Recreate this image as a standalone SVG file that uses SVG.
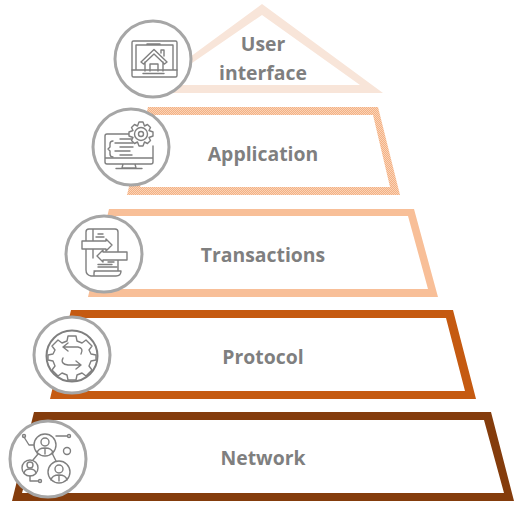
<svg xmlns="http://www.w3.org/2000/svg" width="526" height="514" viewBox="0 0 526 514">
<style>
.lbl{font-family:"Open Sans","Noto Sans","Liberation Sans",sans-serif;font-weight:700;font-size:19.400px;fill:#7f7f7f;text-anchor:middle}
.ring{fill:#fff;stroke:#a6a6a6;stroke-width:3}
.ic{fill:none;stroke:#7f7f7f;stroke-width:1.400;stroke-linejoin:round;stroke-linecap:round}
.icw{fill:#fff;stroke:#7f7f7f;stroke-width:1.400;stroke-linejoin:round}
</style>
<defs>
<pattern id="dither" width="2" height="2" patternUnits="userSpaceOnUse">
<rect width="2" height="2" fill="#f4b183"/>
<rect width="1" height="1" fill="#fad3b8"/>
<rect x="1" y="1" width="1" height="1" fill="#fad3b8"/>
</pattern>
</defs>
<g id="connectors"></g>
<g id="node-ui">
<path fill="#f8e5d9" fill-rule="evenodd" d="M262 4L383 93H141ZM262 15L160 85H360Z"/>
<text class="lbl" x="263" y="51">User</text>
<text class="lbl" x="263" y="80">interface</text>
<circle class="ring" cx="153" cy="59" r="38"/>
<g class="ic">
<rect x="132" y="41" width="45" height="36" rx="1.500"/>
<path d="M132 70H177M136 70V45H173V70M143 73.500H164M147 44H160"/>
<path d="M141 62L154 49.500L167 62L164.500 64L154 54L143.500 64ZM145 62V71M163 62V71M150 71V64H158V71M161 53V50H164V56"/>
</g>
</g>
<g id="node-application">
<path fill="url(#dither)" fill-rule="evenodd" d="M148 107H378L400 195H127ZM155 115L140 187H390L373 115Z"/>
<text class="lbl" x="263" y="161">Application</text>
<circle class="ring" cx="131" cy="147" r="38"/>
<g class="ic">
<path d="M130 134H107Q105 134 105 136V162Q105 164 107 164H151Q153 164 153 162V146M105 158H153M123 164L122 168H136L135 164M116 168.500H142"/>
<path d="M113 141Q110 141 110 144V147L108 149L110 151V154Q110 157 113 157M120 139H133M115 143H133M120 147H133M115 151H130M120 155H132"/>
<path d="M139 122H143L144.500 126L147.500 124.500L150.500 127.500L149 130.500L153 132V136L149 137.500L150.500 140.500L147.500 143.500L144.500 142L143 146H139L137.500 142L134.500 143.500L131.500 140.500L133 137.500L129 136V132L133 130.500L131.500 127.500L134.500 124.500L137.500 126Z" class="icw"/>
<circle cx="141" cy="134" r="6.500"/>
<circle cx="141" cy="134" r="2.500"/>
</g>
</g>
<g id="node-transactions">
<path fill="#f8bf98" fill-rule="evenodd" d="M109 209H414L438 297H88ZM116 216L96 289H428L408 216Z"/>
<text class="lbl" x="263" y="262">Transactions</text>
<circle class="ring" cx="104" cy="254" r="38"/>
<g class="ic">
<path d="M86 258V232Q86 229 89 229H115Q118 229 118 232V271H94M93 229V241M93 249V258M86 258V270Q86 275 91 276H116Q121 276 121 271H96Q94 271 94 273V275"/>
<path d="M98 234H103M96 237H104M108 262H114M98 267H117M98 264.500H112"/>
<path class="icw" d="M82 241H106V239L112 245L106 251V249H82Z"/>
<path class="icw" d="M127 252H103V250L97 256L103 262V260H127Z"/>
</g>
</g>
<g id="node-protocol">
<path fill="#c55a11" fill-rule="evenodd" d="M71 310H453L476 399H50ZM79 318L60 391H465L446 318Z"/>
<text class="lbl" x="263" y="364">Protocol</text>
<circle class="ring" cx="72" cy="355" r="38"/>
<g class="ic">
<circle cx="72" cy="356" r="25.500" stroke-width="2"/>
<path d="M68 336H76L77 341L82 343L86 340L92 346L89 350L91 354L96 355V360L91 361L89 366L92 370L86 376L82 373L77 375L76 380H68L67 375L62 373L58 376L52 370L55 366L53 361L48 360V355L53 354L55 350L52 346L58 340L62 343L67 341Z"/>
<path d="M63 347H78Q84 348 81 354M63 347L68 343M63 347L68 351M81 365H68Q60 364 63 358M81 365L76 361M81 365L76 369"/>
</g>
</g>
<g id="node-network">
<path fill="#843c0c" fill-rule="evenodd" d="M34 412H491L514 501H12ZM42 420L22 493H504L484 420Z"/>
<text class="lbl" x="263" y="465">Network</text>
<circle class="ring" cx="48" cy="459" r="38"/>
<g class="ic" stroke-width="1.300">
<circle cx="45" cy="445" r="11"/>
<circle cx="45" cy="442" r="4"/>
<path d="M37 453Q38 448 45 448Q52 448 53 453M45 449V454"/>
<circle cx="30" cy="468" r="8"/>
<circle cx="30" cy="465" r="3"/>
<path d="M24 473Q25 469 30 469Q35 469 36 473"/>
<circle cx="59" cy="472" r="11"/>
<circle cx="59" cy="469" r="4"/>
<path d="M51 480Q52 475 59 475Q66 475 67 480M59 476V481"/>
<circle cx="67" cy="451" r="3.500"/>
<circle cx="69" cy="436" r="1.500"/>
<circle cx="24" cy="436" r="1.500"/>
<circle cx="40" cy="481" r="1.500"/>
<path d="M56 436H67M24 437L29 445H34M38 454L33 460M52 453L56 461M30 476V481H38"/>
</g>
</g>
</svg>
